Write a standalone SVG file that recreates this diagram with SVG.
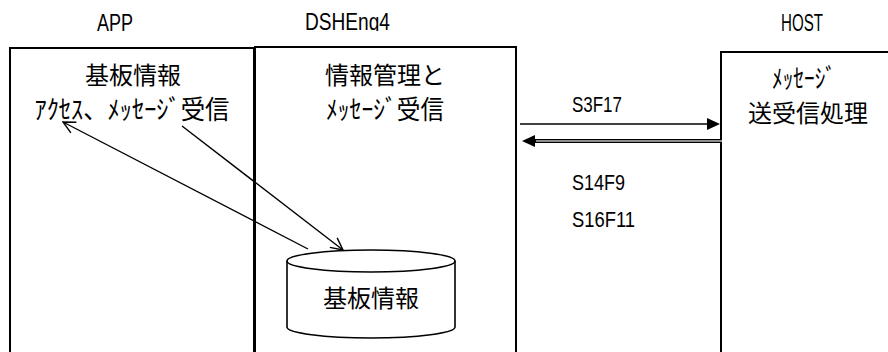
<svg xmlns="http://www.w3.org/2000/svg" width="888" height="352" viewBox="0 0 888 352">
<style>
.box{fill:#fff;stroke:#000;stroke-width:2}
.lbl{font-family:"Liberation Sans","DejaVu Sans",sans-serif;font-size:24px;fill:#000}
.sm{font-size:22px}
.jp{font-family:"Noto Sans CJK JP","Noto Sans CJK SC",sans-serif;font-size:24px;fill:#000;text-anchor:middle}
.hw{font-size:26px}
.ln{stroke:#000;stroke-width:1.4;fill:none}
</style>
<defs>
<marker id="open" viewBox="0 0 14 14" refX="13" refY="7" markerWidth="14" markerHeight="14" markerUnits="userSpaceOnUse" orient="auto">
<path d="M1,1 L13,7 L1,13" fill="none" stroke="#000" stroke-width="1.4"/>
</marker>
<marker id="solid" viewBox="0 0 13 12" refX="0" refY="6" markerWidth="13" markerHeight="12" markerUnits="userSpaceOnUse" orient="auto">
<path d="M0,0 L13,6 L0,12 z" fill="#000"/>
</marker>
<clipPath id="clipD"><rect x="290" y="0" width="120" height="31"/></clipPath>
</defs>
<g id="app">
<text class="lbl" x="97" y="31" textLength="36" lengthAdjust="spacingAndGlyphs">APP</text>
<rect class="box" x="10" y="48" width="244" height="330"/>
<text class="jp" x="133" y="84">基板情報</text>
<text class="jp hw" x="132" y="119" textLength="195" lengthAdjust="spacingAndGlyphs">ｱｸｾｽ、ﾒｯｾｰｼﾞ受信</text>
</g>
<g id="dsheng4">
<text class="lbl" x="305" y="30" textLength="85" lengthAdjust="spacingAndGlyphs" clip-path="url(#clipD)">DSHEng4</text>
<rect class="box" x="255" y="47" width="261" height="330"/>
<text class="jp" x="385" y="84">情報管理と</text>
<text class="jp hw" x="385" y="119" textLength="118" lengthAdjust="spacingAndGlyphs">ﾒｯｾｰｼﾞ受信</text>
</g>
<g id="db">
<path d="M287,261 L287,327 A84,11 0 0 0 455,327 L455,261" fill="#fff" stroke="#000" stroke-width="1.6"/>
<ellipse cx="371" cy="261" rx="84" ry="11" fill="#fff" stroke="#000" stroke-width="1.6"/>
<text class="jp" x="371" y="307">基板情報</text>
</g>
<g id="host">
<text class="lbl" x="781" y="31" textLength="42" lengthAdjust="spacingAndGlyphs">HOST</text>
<rect class="box" x="721" y="52" width="200" height="330"/>
<text class="jp hw" x="804" y="88" textLength="64" lengthAdjust="spacingAndGlyphs">ﾒｯｾｰｼﾞ</text>
<text class="jp" x="808" y="122">送受信処理</text>
</g>
<g id="connectors">
<path class="ln" d="M308,249 L63,122" marker-end="url(#open)"/>
<path class="ln" d="M182,126 L343,250" marker-end="url(#open)"/>
<path d="M520,124 L707,124" stroke="#000" stroke-width="1.6" marker-end="url(#solid)"/>
<path d="M722,141 L535,141" stroke="#000" stroke-width="4" marker-end="url(#solid)"/>
<path d="M722,141 L536,141" stroke="#bbb" stroke-width="1.4"/>
<text class="lbl sm" x="572" y="112" textLength="50" lengthAdjust="spacingAndGlyphs">S3F17</text>
<text class="lbl sm" x="572" y="190" textLength="53" lengthAdjust="spacingAndGlyphs">S14F9</text>
<text class="lbl sm" x="572" y="227" textLength="63" lengthAdjust="spacingAndGlyphs">S16F11</text>
</g>
</svg>
